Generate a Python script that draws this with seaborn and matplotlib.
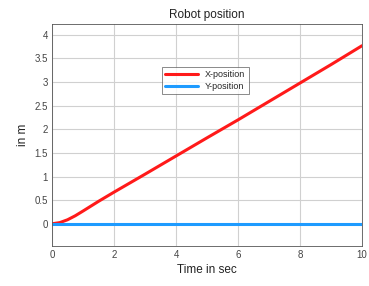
import matplotlib
matplotlib.use("Agg")

import matplotlib.pyplot as plt
import numpy as np
import pandas as pd
import seaborn as sns

# values
time_s = [0, 0.25, 0.5, 0.75, 1, 1.5, 2, 3, 4, 5, 6, 7, 8, 9, 10]
x_pos = [0, 0.025, 0.085, 0.17, 0.27, 0.475, 0.67, 1.05, 1.435, 1.82, 2.2, 2.59, 2.98, 3.37, 3.77]
y_pos = [0] * len(time_s)

sns.set_theme(style="whitegrid")
plt.rcParams["font.family"] = ["Liberation Sans", "DejaVu Sans"]

df = pd.DataFrame({"t": time_s, "X-position": x_pos, "Y-position": y_pos})
long = df.melt(id_vars="t", var_name="series", value_name="pos")

fig = plt.figure(figsize=(3.69, 2.86), dpi=100)
ax = fig.add_axes([52 / 369, 1 - 246 / 286, 310 / 369, 222 / 286])

sns.lineplot(data=long, x="t", y="pos", hue="series",
             palette={"X-position": "#ff1a1a", "Y-position": "#1e9bff"},
             linewidth=2.2, ax=ax)

ax.set_xlim(0, 10)
ax.set_ylim(-0.47, 4.23)
ax.set_xticks(np.arange(0, 11, 2))
ax.set_yticks(np.arange(0, 4.01, 0.5))
ax.set_yticklabels(["0", "0.5", "1", "1.5", "2", "2.5", "3", "3.5", "4"])
ax.tick_params(labelsize=7, colors="#444444", length=0, pad=3)
ax.grid(True, color="#d0d0d0", linewidth=0.8)
for s in ax.spines.values():
    s.set_visible(True)
    s.set_color("#555555")
    s.set_linewidth(0.6)

ax.set_xlabel("Time in sec", fontsize=8.5, color="#222222", labelpad=3)
ax.set_ylabel("in m", fontsize=8.5, color="#222222", labelpad=4)
ax.set_title("Robot position", fontsize=8.5, color="#222222", pad=4)

leg = ax.legend(loc="upper left", bbox_to_anchor=(105 / 310, 1 - 38 / 222),
                fontsize=6.5, frameon=True, fancybox=False, title=None,
                handlelength=3.6, borderpad=0.4, labelspacing=0.3)
leg.get_frame().set_edgecolor("#555555")
leg.get_frame().set_linewidth(0.6)

fig.savefig("out.png", dpi=100, facecolor="white")
